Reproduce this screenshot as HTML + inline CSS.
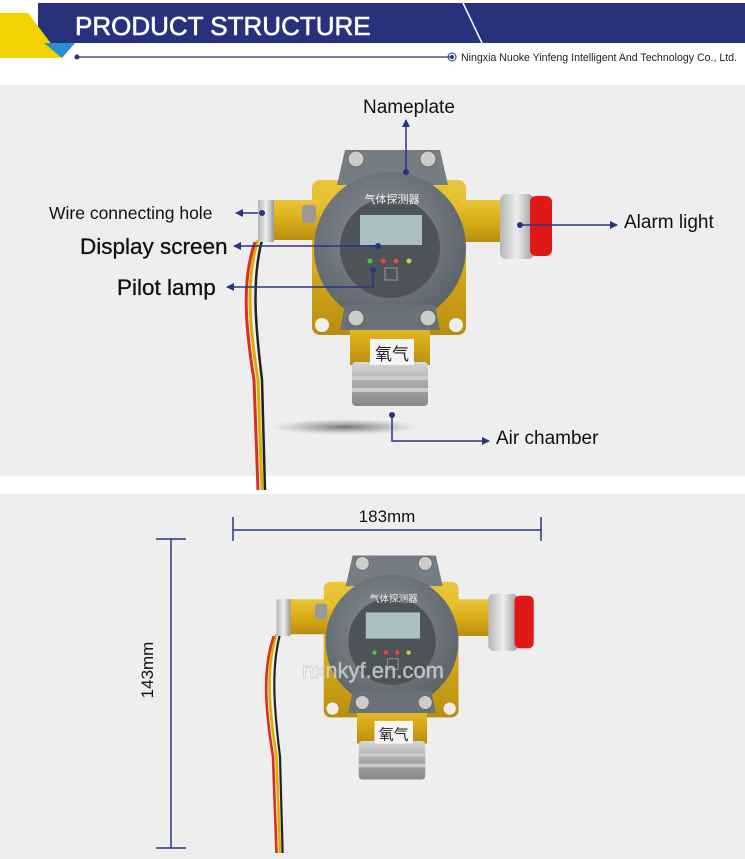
<!DOCTYPE html>
<html><head><meta charset="utf-8"><style>
html,body{margin:0;padding:0;background:#fff;overflow:hidden;}
svg{display:block;}
text{font-family:"Liberation Sans","Noto Sans CJK SC",sans-serif;}
</style></head><body>
<svg width="745" height="859" viewBox="0 0 745 859" xmlns="http://www.w3.org/2000/svg">
<defs>
<marker id="ar" markerWidth="8" markerHeight="8" refX="7" refY="4" orient="auto" markerUnits="userSpaceOnUse"><path d="M0,0 L8,4 L0,8 z" fill="#2a3580"/></marker>
<radialGradient id="ring" cx="0.45" cy="0.4" r="0.6"><stop offset="0" stop-color="#8a9096"/><stop offset="1" stop-color="#5d646b"/></radialGradient>
<linearGradient id="yel" x1="0" y1="0" x2="0" y2="1"><stop offset="0" stop-color="#e9c63a"/><stop offset="0.5" stop-color="#d9ad18"/><stop offset="1" stop-color="#b98e10"/></linearGradient>
<linearGradient id="sil" x1="0" y1="0" x2="0" y2="1"><stop offset="0" stop-color="#d8d8d8"/><stop offset="0.5" stop-color="#a8a8a8"/><stop offset="1" stop-color="#888"/></linearGradient>
<linearGradient id="silh" x1="0" y1="0" x2="1" y2="0"><stop offset="0" stop-color="#b5b5b5"/><stop offset="0.5" stop-color="#eee"/><stop offset="1" stop-color="#999"/></linearGradient>
<radialGradient id="shadow" cx="0.5" cy="0.5" r="0.5"><stop offset="0" stop-color="#555" stop-opacity="0.8"/><stop offset="1" stop-color="#888" stop-opacity="0"/></radialGradient>
<g id="dev">
  <path d="M258,240 C245,280 250,330 258,380 L262,490" stroke="#d9b000" stroke-width="3" fill="none"/>
  <path d="M255,242 C241,282 246,330 254,380 L258,490" stroke="#d83020" stroke-width="3" fill="none"/>
  <path d="M262,240 C251,282 256,330 262,380 L265,490" stroke="#222" stroke-width="2.5" fill="none"/>
  <rect x="312" y="180" width="154" height="155" rx="8" fill="url(#yel)"/>
  <circle cx="322" cy="325" r="7" fill="#eee"/><circle cx="456" cy="325" r="7" fill="#eee"/>
  <rect x="268" y="200" width="52" height="40" fill="url(#yel)"/>
  <rect x="460" y="200" width="45" height="42" fill="url(#yel)"/>
  <rect x="258" y="200" width="16" height="42" fill="url(#silh)"/>
  <rect x="302" y="205" width="14" height="18" rx="3" fill="#999"/>
  <rect x="500" y="194" width="34" height="65" rx="6" fill="url(#silh)"/>
  <rect x="530" y="196" width="22" height="60" rx="6" fill="#e01818"/>
  <path d="M345,150 L440,150 L448,185 L337,185 z" fill="#777d84"/>
  <circle cx="356" cy="159" r="8" fill="#ccc" stroke="#666"/><circle cx="428" cy="159" r="8" fill="#ccc" stroke="#666"/>
  <rect x="350" y="315" width="80" height="50" fill="url(#yel)"/>
  <rect x="352" y="362" width="76" height="44" rx="4" fill="url(#sil)"/>
  <rect x="352" y="376" width="76" height="4" fill="#ccc"/><rect x="352" y="388" width="76" height="4" fill="#ccc"/>
  <rect x="370" y="339" width="44" height="26" fill="#f4f4f4"/>
  <circle cx="390" cy="248" r="76" fill="url(#ring)"/>
  <path d="M345,305 L435,305 L440,330 L340,330 z" fill="#6b7178"/>
  <circle cx="356" cy="318" r="8" fill="#ccc" stroke="#666"/><circle cx="428" cy="318" r="8" fill="#ccc" stroke="#666"/>
  <circle cx="390" cy="248" r="50" fill="#4d5359"/>
  <rect x="360" y="215" width="62" height="30" fill="#a9bfc0"/>
  <circle cx="370" cy="261" r="2.5" fill="#4c4"/><circle cx="383" cy="261" r="2.5" fill="#e44"/><circle cx="396" cy="261" r="2.5" fill="#e44"/><circle cx="409" cy="261" r="2.5" fill="#cc4"/>
  <rect x="385" y="268" width="12" height="12" fill="none" stroke="#999"/>
</g>
</defs>
<rect x="0" y="0" width="745" height="44" fill="#fff"/>
<rect x="38" y="3" width="707" height="40" fill="#27317d"/>
<polygon points="0,13 28,13 62,58 0,58" fill="#f2d500"/>
<polygon points="44,43 75,43 62,58" fill="#2a8fd0"/>
<line x1="463" y1="3" x2="482" y2="43" stroke="#fff" stroke-width="1.5"/>
<text x="75" y="35" font-size="26" fill="#fff" stroke="#fff" stroke-width="0.6">PRODUCT STRUCTURE</text>
<line x1="77" y1="57" x2="450" y2="57" stroke="#27317d" stroke-width="1.2"/>
<circle cx="77" cy="57" r="2.5" fill="#27317d"/>
<circle cx="452" cy="57" r="4" fill="none" stroke="#27317d"/><circle cx="452" cy="57" r="2" fill="#27317d"/>
<text x="461" y="61" font-size="10.6" fill="#222">Ningxia Nuoke Yinfeng Intelligent And Technology Co., Ltd.</text>
<rect x="0" y="85" width="745" height="391" fill="#eeeeee"/>
<rect x="0" y="494" width="745" height="365" fill="#eeeeee"/>
<ellipse cx="345" cy="427" rx="75" ry="8" fill="url(#shadow)"/>
<use href="#dev"/>
<text x="392" y="203" font-size="11" fill="#eee" text-anchor="middle">气体探测器</text>
<text x="392" y="360" font-size="17" fill="#222" text-anchor="middle">氧气</text>
<text x="363" y="113" font-size="19" fill="#111">Nameplate</text>
<line x1="406" y1="172" x2="406" y2="120" stroke="#2a3580" stroke-width="1.5" marker-end="url(#ar)"/>
<circle cx="406" cy="172" r="3" fill="#2a3580"/>
<text x="49" y="219" font-size="17.5" fill="#111">Wire connecting hole</text>
<line x1="258" y1="213" x2="236" y2="213" stroke="#2a3580" stroke-width="1.5" marker-end="url(#ar)"/>
<circle cx="262" cy="213" r="3" fill="#2a3580"/>
<text x="80" y="254" font-size="22.5" fill="#111" stroke="#111" stroke-width="0.3">Display screen</text>
<line x1="378" y1="246" x2="234" y2="246" stroke="#2a3580" stroke-width="1.5" marker-end="url(#ar)"/>
<circle cx="378" cy="246" r="3" fill="#2a3580"/>
<text x="117" y="295" font-size="22.5" fill="#111" stroke="#111" stroke-width="0.3">Pilot lamp</text>
<polyline points="373,270 373,287 227,287" fill="none" stroke="#2a3580" stroke-width="1.5" marker-end="url(#ar)"/>
<circle cx="373" cy="270" r="3" fill="#2a3580"/>
<text x="624" y="228" font-size="19" fill="#111">Alarm light</text>
<line x1="520" y1="225" x2="617" y2="225" stroke="#2a3580" stroke-width="1.5" marker-end="url(#ar)"/>
<circle cx="520" cy="225" r="3" fill="#2a3580"/>
<text x="496" y="444" font-size="19" fill="#111">Air chamber</text>
<polyline points="392,415 392,441 489,441" fill="none" stroke="#2a3580" stroke-width="1.5" marker-end="url(#ar)"/>
<circle cx="392" cy="415" r="3" fill="#2a3580"/>
<g transform="translate(392,643) scale(0.875) translate(-390,-250)">
  <use href="#dev"/>
  <text x="392" y="203" font-size="11" fill="#eee" text-anchor="middle">气体探测器</text>
  <text x="392" y="360" font-size="17" fill="#222" text-anchor="middle">氧气</text>
</g>
<text x="373" y="678" font-size="22" fill="#fff" fill-opacity="0.6" text-anchor="middle" stroke="#bbb" stroke-width="0.5">nxnkyf.en.com</text>
<line x1="233" y1="530" x2="541" y2="530" stroke="#2a3580" stroke-width="1.5"/>
<line x1="233" y1="517" x2="233" y2="541" stroke="#2a3580" stroke-width="1.5"/>
<line x1="541" y1="517" x2="541" y2="541" stroke="#2a3580" stroke-width="1.5"/>
<text x="387" y="522" font-size="17" fill="#111" text-anchor="middle">183mm</text>
<line x1="171" y1="539" x2="171" y2="848" stroke="#2a3580" stroke-width="1.5"/>
<line x1="156" y1="539" x2="186" y2="539" stroke="#2a3580" stroke-width="1.5"/>
<line x1="156" y1="848" x2="186" y2="848" stroke="#2a3580" stroke-width="1.5"/>
<text transform="translate(153,670) rotate(-90)" font-size="17" fill="#111" text-anchor="middle">143mm</text>
</svg>
</body></html>
